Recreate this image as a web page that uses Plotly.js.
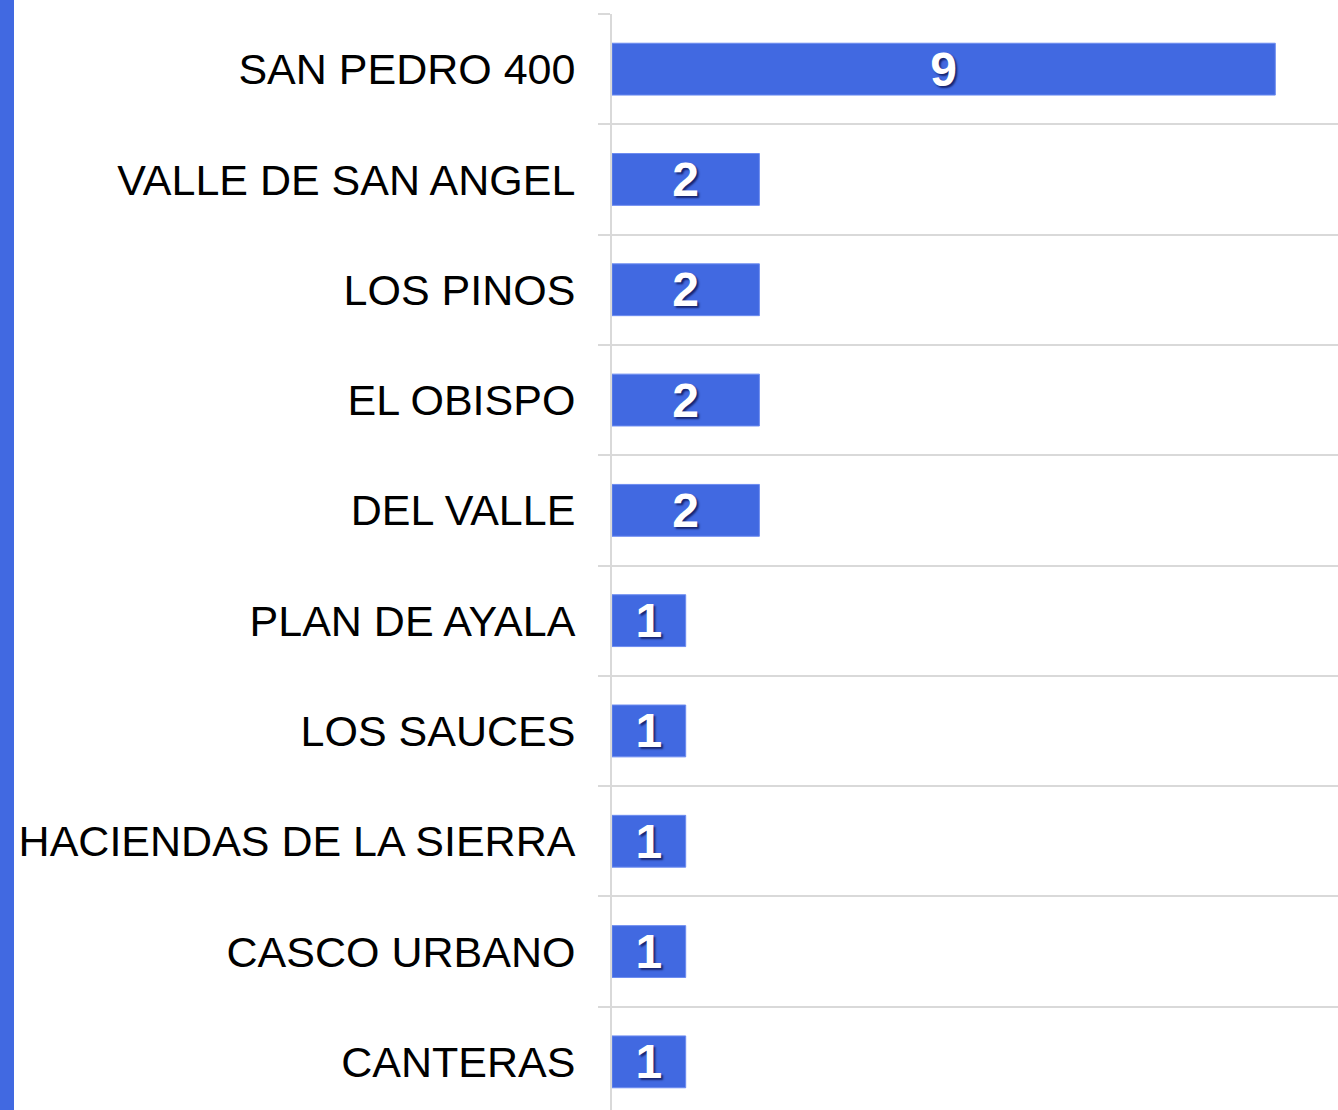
<!DOCTYPE html>
<html>
<head>
<meta charset="utf-8">
<script src="https://cdn.plot.ly/plotly-3.0.1.min.js"></script>
<style>
html,body{margin:0;padding:0;background:#fff;}
#chart{width:1338px;height:1110px;}
</style>
</head>
<body>
<div id="chart"></div>
<script>
const categories = ["SAN PEDRO 400","VALLE DE SAN ANGEL","LOS PINOS","EL OBISPO","DEL VALLE","PLAN DE AYALA","LOS SAUCES","HACIENDAS DE LA SIERRA","CASCO URBANO","CANTERAS"];
const values = [9,2,2,2,2,1,1,1,1,1];
const labels = values.map(String);

const W = 1338, H = 1110;
const ML = 612, MT = 14;
const plotW = W - ML, plotH = H - MT;
const bandPx = 110.3;
const unitPx = 73.7;
const barColor = "#4169E1";
const grid = "#d9d9d9";

const trace = {
  type: "bar",
  orientation: "h",
  y: categories,
  x: values,
  text: labels,
  textposition: "inside",
  insidetextanchor: "middle",
  constraintext: "none",
  textangle: 0,
  textfont: {family: "Liberation Sans", size: 48, color: "#ffffff", weight: "bold", shadow: "2px 2px 2px rgba(0,0,50,0.65)"},
  marker: {color: barColor, line: {color: "#6d8cf0", width: 1}},
  width: 0.47,
  hoverinfo: "none",
  cliponaxis: false
};

const layout = {
  width: W, height: H,
  margin: {l: ML, r: 0, t: MT, b: 0, pad: 0},
  paper_bgcolor: "#ffffff",
  plot_bgcolor: "#ffffff",
  showlegend: false,
  font: {family: "Liberation Sans", color: "#000"},
  xaxis: {
    range: [0, plotW / unitPx],
    showgrid: false, zeroline: false, showticklabels: false, showline: false, ticks: ""
  },
  yaxis: {
    type: "category",
    categoryorder: "array",
    categoryarray: categories,
    range: [plotH / bandPx - 0.5, -0.5],
    tickson: "boundaries",
    showgrid: true, gridcolor: grid, gridwidth: 2,
    ticks: "outside", ticklen: 12, tickwidth: 2, tickcolor: grid,
    showline: true, linecolor: grid, linewidth: 2,
    zeroline: false,
    tickfont: {family: "Liberation Sans", size: 43, color: "#000"},
    ticklabelstandoff: 26
  },
  shapes: [{
    type: "rect", xref: "paper", yref: "paper", layer: "below",
    x0: -ML / plotW, x1: (14 - ML) / plotW,
    y0: 0, y1: 1 + MT / plotH,
    fillcolor: barColor, line: {width: 0}
  }]
};

Plotly.newPlot("chart", [trace], layout, {displayModeBar: false, staticPlot: true});
</script>
</body>
</html>
